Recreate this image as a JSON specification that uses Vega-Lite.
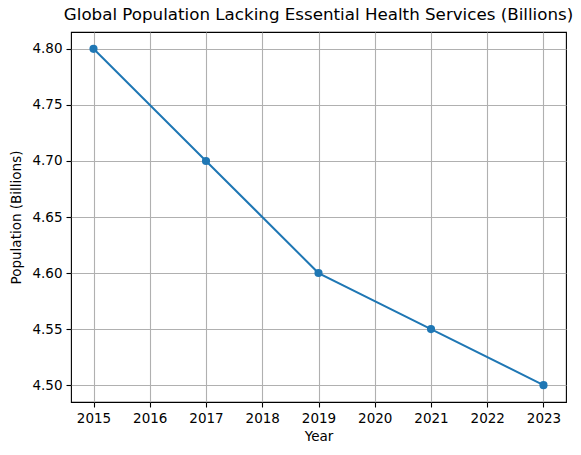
{
  "$schema": "https://vega.github.io/schema/vega-lite/v6.json",
  "autosize": {"type": "none"},
  "width": 495,
  "height": 370,
  "padding": {"left": 71, "top": 32, "right": 15, "bottom": 53},
  "background": "white",
  "config": {
    "font": "DejaVu Sans",
    "view": {"stroke": "black", "strokeWidth": 1.1},
    "axis": {
      "domain": false,
      "grid": true,
      "gridColor": "#b0b0b0",
      "gridWidth": 1.1,
      "tickColor": "black",
      "tickSize": 5,
      "tickWidth": 1.1,
      "labelFont": "DejaVu Sans",
      "labelFontSize": 13.5,
      "labelColor": "black",
      "titleFont": "DejaVu Sans",
      "titleFontSize": 13.5,
      "titleFontWeight": "normal",
      "titleColor": "black"
    }
  },
  "title": {
    "text": "Global Population Lacking Essential Health Services (Billions)",
    "font": "DejaVu Sans",
    "fontSize": 16.7,
    "fontWeight": "normal",
    "color": "black",
    "anchor": "middle",
    "offset": 8
  },
  "data": {
    "values": [
      {"Year": 2015, "Population": 4.8},
      {"Year": 2017, "Population": 4.7},
      {"Year": 2019, "Population": 4.6},
      {"Year": 2021, "Population": 4.55},
      {"Year": 2023, "Population": 4.5}
    ]
  },
  "mark": {"type": "line", "color": "#1f77b4", "strokeWidth": 2, "point": {"filled": true, "size": 66, "color": "#1f77b4", "opacity": 1}},
  "encoding": {
    "x": {
      "field": "Year",
      "type": "quantitative",
      "scale": {"domain": [2014.6, 2023.4], "nice": false, "zero": false},
      "axis": {"values": [2015, 2016, 2017, 2018, 2019, 2020, 2021, 2022, 2023], "format": "d", "title": "Year", "labelPadding": 4, "titlePadding": 5}
    },
    "y": {
      "field": "Population",
      "type": "quantitative",
      "scale": {"domain": [4.485, 4.815], "nice": false, "zero": false},
      "axis": {"values": [4.5, 4.55, 4.6, 4.65, 4.7, 4.75, 4.8], "format": ".2f", "title": "Population (Billions)", "labelPadding": 4, "titlePadding": 8}
    }
  }
}
